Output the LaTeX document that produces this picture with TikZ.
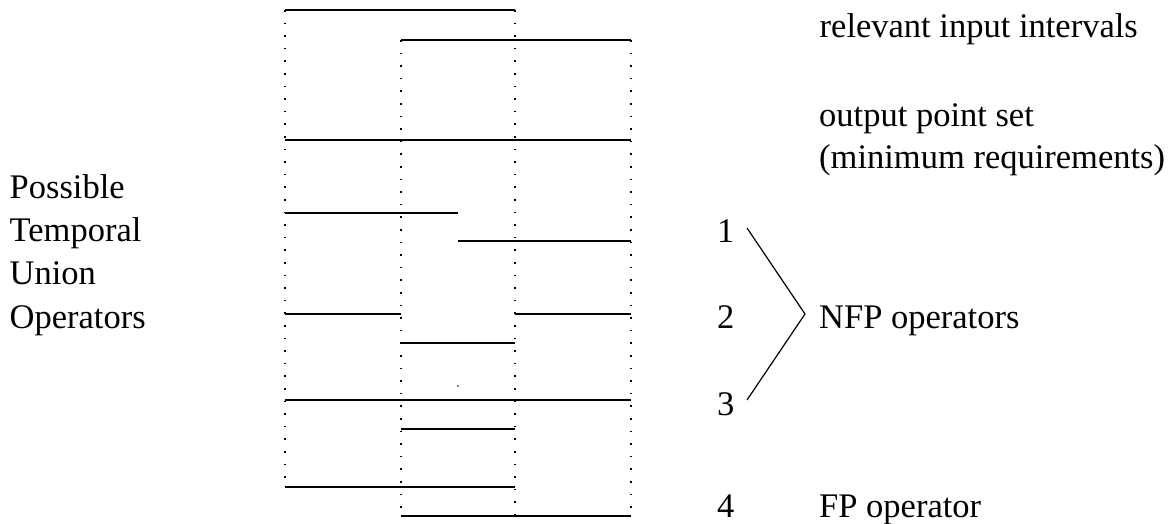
\documentclass[tikz,border=0pt]{standalone}
\usepackage{fontspec}
\setmainfont{Liberation Serif}
\begin{document}
\begin{tikzpicture}[x=1pt,y=-1pt,
  interval/.style={line width=1.6pt},
  guide/.style={line width=1.5pt, dash pattern=on 1.6pt off 11pt},
  brace/.style={line width=1.2pt},
  lbl/.style={anchor=base west, inner sep=0pt, font=\fontsize{34.5}{42}\selectfont}]
\useasboundingbox (0,0) rectangle (1176,524);

% time points on the horizontal axis
\def\ta{285}\def\tb{401}\def\tm{458}\def\tc{515}\def\td{631}

% dotted guides at the interval end points
\draw[guide] (\ta,10) -- (\ta,487);
\draw[guide] (\tb,40) -- (\tb,516);
\draw[guide] (\tc,10) -- (\tc,516);
\draw[guide] (\td,40) -- (\td,516);

% relevant input intervals
\draw[interval] (\ta,10) -- (\tc,10);
\draw[interval] (\tb,40) -- (\td,40);

% output point set
\draw[interval] (\ta,140) -- (\td,140);

% operator 1
\draw[interval] (\ta,213) -- (\tm,213);
\draw[interval] (\tm,241) -- (\td,241);

% operator 2
\draw[interval] (\ta,314) -- (\tb,314);
\draw[interval] (\tc,314) -- (\td,314);
\draw[interval] (\tb,343) -- (\tc,343);
\fill (\tm,386) circle (0.9pt);

% operator 3
\draw[interval] (\ta,400) -- (\td,400);
\draw[interval] (\tb,429) -- (\tc,429);

% operator 4
\draw[interval] (\ta,487) -- (\tc,487);
\draw[interval] (\tb,516) -- (\td,516);

% left caption
\node[lbl] (cap1) at (9.5,198) {Possible};
\node[lbl] (cap2) at (9.5,241) {Temporal};
\node[lbl] (cap3) at (9.5,284) {Union};
\node[lbl] (cap4) at (9.5,328) {Operators};

% right-hand labels
\node[lbl] (lin) at (819.5,38) {relevant input intervals};
\node[lbl] (lout) at (819,127) {output point set};
\node[lbl] (lmin) at (819,168) {(minimum requirements)};

\node[lbl] (n1) at (717,242) {1};
\node[lbl] (n2) at (717,328) {2};
\node[lbl] (n3) at (717,415) {3};
\node[lbl] (n4) at (717,517) {4};

\node[lbl] (nfp) at (819,328) {NFP operators};
\node[lbl] (fp) at (819,517) {FP operator};

% bracket grouping operators 1 to 3
\coordinate (bt) at (747,228);
\coordinate (bv) at (805,314);
\coordinate (bb) at (747,400);
\draw[brace] (bt) -- (bv) -- (bb);
\end{tikzpicture}
\end{document}
